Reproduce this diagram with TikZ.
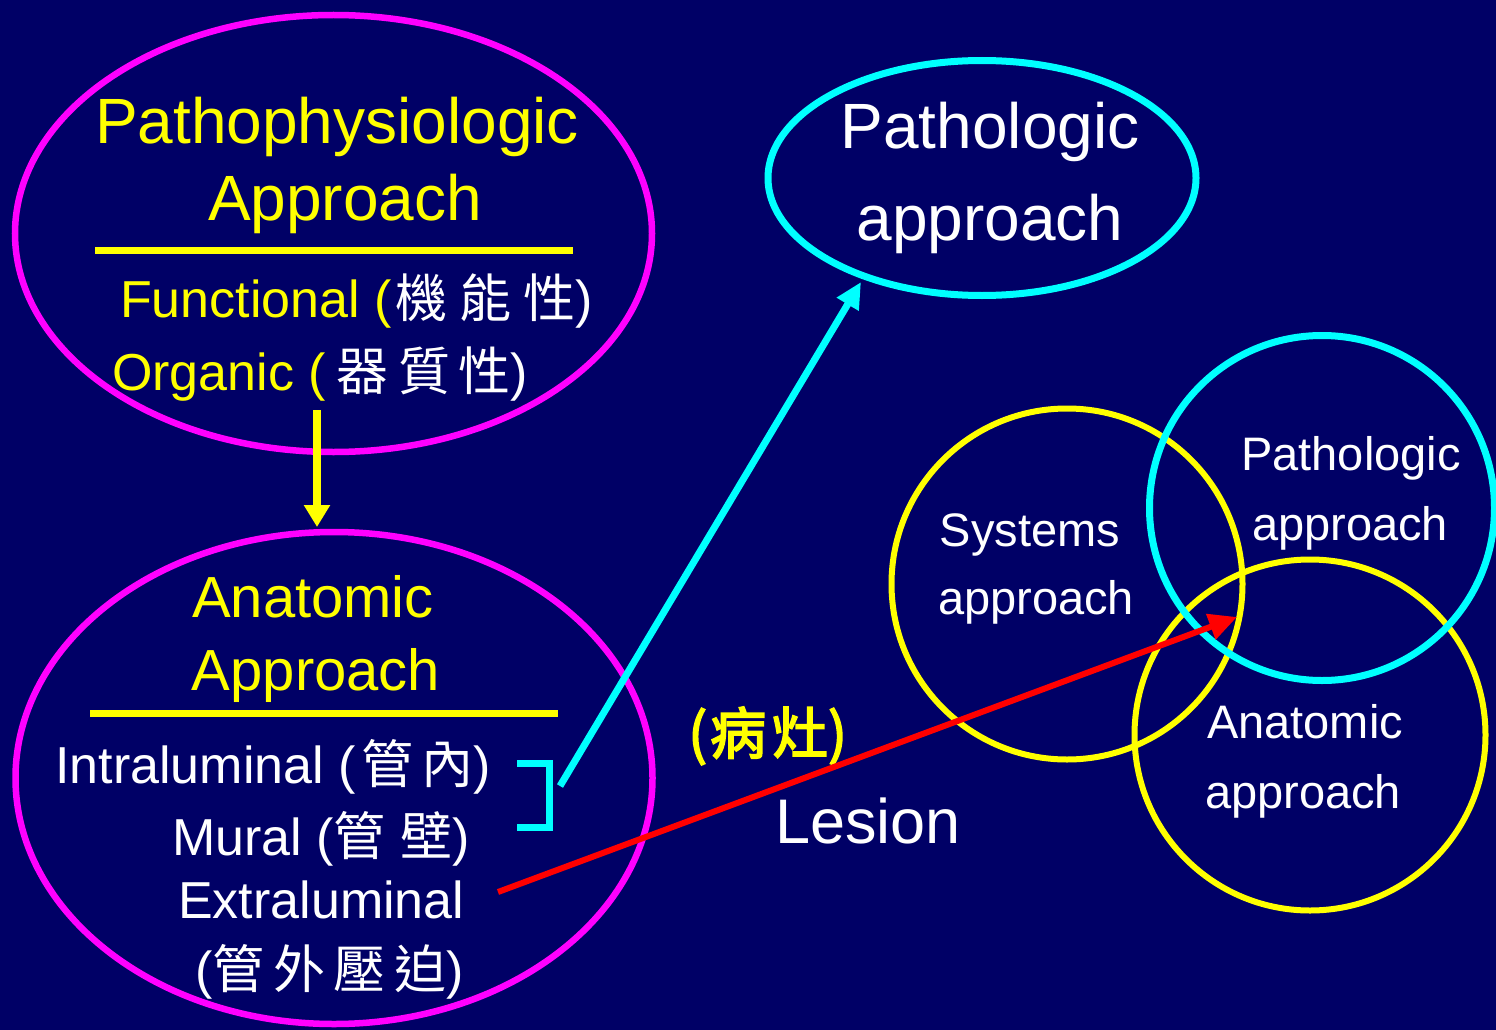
\documentclass[tikz,border=0pt]{standalone}
\usepackage{fontspec}
\setmainfont{Liberation Sans}
\newfontfamily\cjk{Noto Sans CJK TC}
\newfontfamily\cjkb[FakeBold=3]{Noto Sans CJK TC}
\usetikzlibrary{shapes.geometric,arrows.meta}
\definecolor{bg}{RGB}{0,0,102}
\definecolor{mag}{RGB}{255,0,255}
\definecolor{cyn}{RGB}{0,255,255}
\definecolor{yel}{RGB}{255,255,0}
\definecolor{rd}{RGB}{255,0,0}
\begin{document}
\begin{tikzpicture}[x=1pt,y=-1pt,
  ell/.style={ellipse,draw,inner sep=0pt},
  ring/.style={circle,draw,inner sep=0pt},
  big/.style={font=\fontsize{64}{70}\selectfont,inner sep=0pt},
  mid/.style={font=\fontsize{58}{64}\selectfont,inner sep=0pt},
  std/.style={font=\fontsize{52}{58}\selectfont,inner sep=0pt},
  sml/.style={font=\fontsize{47}{52}\selectfont,inner sep=0pt,text=white},
  rule/.style={yel,line width=7pt}
]
\fill[bg] (0,0) rectangle (1496,1030);
\useasboundingbox (0,0) rectangle (1496,1030);

% ellipses
\node[ell,draw=mag,line width=6.5pt,minimum width=637pt,minimum height=437pt] (physEll) at (333.5,233.5) {};
\node[ell,draw=mag,line width=6.5pt,minimum width=637pt,minimum height=492pt] (anatEll) at (334,778) {};
\node[ell,draw=cyn,line width=7pt,minimum width=428pt,minimum height=235pt] (pathEll) at (982,178) {};

% venn circles
\node[ring,draw=yel,line width=6pt,minimum size=351pt] (sysC) at (1067,584) {};
\node[ring,draw=yel,line width=6pt,minimum size=351pt] (anaC) at (1310,735) {};
\node[ring,draw=cyn,line width=7pt,minimum size=345pt] (patC) at (1322,508) {};

% top-left text
\node[big,text=yel,anchor=base] (t1) at (337,143) {Pathophysiologic};
\node[big,text=yel,anchor=base] (t2) at (345,220) {Approach};
\draw[rule] (95,250) -- (573,250);
\node[std,text=white,anchor=base west] (t3) at (120,317) {{\color{yel}Functional (}\kern4pt{\cjk 機\kern12pt能\kern12pt性})};
\node[std,text=white,anchor=base west] (t4) at (112,390) {{\color{yel}Organic (}\kern10pt{\cjk 器\kern10pt質\kern8pt性})};

% bottom-left text
\node[mid,text=yel,anchor=base] (a1) at (313,617) {Anatomic};
\node[mid,text=yel,anchor=base] (a2) at (316,690) {Approach};
\draw[rule] (90,713) -- (558,713);
\node[std,text=white,anchor=base west] (a3) at (55,783) {Intraluminal (\kern6pt{\cjk 管\kern8pt內})};
\node[std,text=white,anchor=base west] (a4) at (172,855) {Mural ({\cjk 管\;壁})};
\node[std,text=white,anchor=base west] (a5) at (178,918) {Extraluminal};
\node[std,text=white,anchor=base west] (a6) at (195,988) {({\cjk 管\,外\,壓\,迫})};

% bracket
\draw[cyn,line width=7pt] (517,763) -- (549,763) -- (549,827) -- (517,827);

% pathologic
\node[big,text=white,anchor=base] (p1) at (990,148) {Pathologic};
\node[big,text=white,anchor=base] (p2) at (990,240) {approach};

% lesion
\node[text=yel,inner sep=0pt,anchor=base west,font=\fontsize{56}{62}\selectfont] (l1) at (688,754) {\cjkb (\kern3pt病\kern6pt灶)};
\node[text=white,inner sep=0pt,anchor=base west,font=\fontsize{63}{70}\selectfont] (l2) at (775,843) {Lesion};

% venn texts
\node[sml,anchor=base] (s1) at (1030,546) {Systems};
\node[sml,anchor=base] (s2) at (1036,614) {approach};
\node[sml,anchor=base] (s3) at (1351,470) {Pathologic};
\node[sml,anchor=base] (s4) at (1350,540) {approach};
\node[sml,anchor=base] (s5) at (1305,738) {Anatomic};
\node[sml,anchor=base] (s6) at (1303,808) {approach};

% arrows
\coordinate (ya0) at (317,410);
\coordinate (ya1) at (317,527);
\draw[yel,line width=8pt,-{Triangle[width=25pt,length=22pt]}] (ya0) -- (ya1);
\coordinate (ca0) at (560,786);
\coordinate (ca1) at (861,282);
\draw[cyn,line width=7pt,-{Triangle[width=24pt,length=26pt]}] (ca0) -- (ca1);
\coordinate (ra0) at (498,892);
\coordinate (ra1) at (1237,617);
\draw[rd,line width=6pt,-{Triangle[width=26pt,length=28pt]}] (ra0) -- (ra1);
\end{tikzpicture}
\end{document}
